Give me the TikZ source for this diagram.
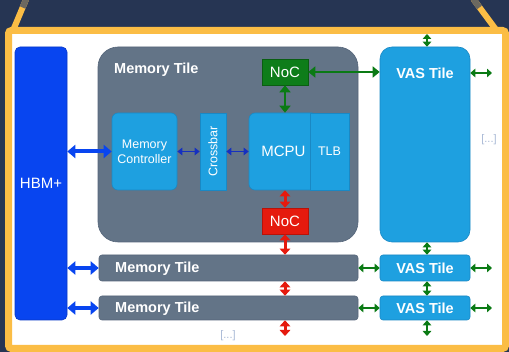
\documentclass[tikz,border=0pt]{standalone}
\usepackage{fontspec}
\setmainfont{Liberation Sans}
\usetikzlibrary{arrows.meta}

\definecolor{navy}{HTML}{263553}
\definecolor{frameorange}{HTML}{FBBD45}
\definecolor{tilegray}{HTML}{637487}
\definecolor{tilegrayedge}{HTML}{55657A}
\definecolor{vasblue}{HTML}{1EA0E0}
\definecolor{vasedge}{HTML}{1A88C4}
\definecolor{hbmblue}{HTML}{0845F0}
\definecolor{hbmedge}{HTML}{0838C8}
\definecolor{nocgreen}{HTML}{0E7D1A}
\definecolor{nocgreenedge}{HTML}{0A5E12}
\definecolor{nocred}{HTML}{E51A0E}
\definecolor{nocrededge}{HTML}{B81208}
\definecolor{linkgreen}{HTML}{0A7A14}
\definecolor{linkblue}{HTML}{1530C0}
\definecolor{dotsblue}{HTML}{A9B9D6}
\definecolor{topgray}{HTML}{6B6860}

\tikzset{
  box/.style={draw, line width=0.6pt, inner sep=0pt, align=center, text=white},
  hbmbox/.style={box, fill=hbmblue, draw=hbmedge, rounded corners=5pt,
    font=\fontsize{15}{18}\selectfont},
  bigtile/.style={box, fill=tilegray, draw=tilegrayedge, rounded corners=20pt},
  rowtile/.style={box, fill=tilegray, draw=tilegrayedge, rounded corners=3pt},
  vastile/.style={box, fill=vasblue, draw=vasedge, rounded corners=12pt},
  vasrow/.style={box, fill=vasblue, draw=vasedge, rounded corners=3pt,
    font=\bfseries\fontsize{14.5}{17}\selectfont},
  unit/.style={box, fill=vasblue, draw=vasedge},
  nocg/.style={box, fill=nocgreen, draw=nocgreenedge,
    font=\fontsize{15}{18}\selectfont},
  nocr/.style={box, fill=nocred, draw=nocrededge,
    font=\fontsize{15}{18}\selectfont},
  titletext/.style={text=white, inner sep=0pt, font=\bfseries\fontsize{14.5}{17}\selectfont},
  dots/.style={text=dotsblue, inner sep=0pt, font=\fontsize{11}{13}\selectfont},
  hbmlink/.style={draw=hbmblue, line width=4pt,
    {Triangle[length=8pt,width=13pt]}-{Triangle[length=8pt,width=13pt]}},
  xlink/.style={draw=linkblue, line width=1.6pt,
    {Triangle[length=5pt,width=7.5pt]}-{Triangle[length=5pt,width=7.5pt]}},
  glink/.style={draw=linkgreen, line width=2.4pt,
    {Triangle[length=5pt,width=8.5pt]}-{Triangle[length=5pt,width=8.5pt]}},
  glinkbig/.style={draw=linkgreen, line width=2.6pt,
    {Triangle[length=7pt,width=11pt]}-{Triangle[length=7pt,width=11pt]}},
  rlink/.style={draw=nocred, line width=3pt,
    {Triangle[length=6pt,width=10.5pt]}-{Triangle[length=6pt,width=10.5pt]}},
}

\begin{document}
\begin{tikzpicture}[x=1pt,y=-1pt]
  % backdrop and frame
  \fill[navy] (0,0) rectangle (509,352);
  \useasboundingbox (0,0) rectangle (509,352);
  \draw[frameorange, line width=6pt] (12.8,31) -- (26.2,-1);
  \draw[topgray, line width=6pt] (22.6,7.5) -- (26.2,-1);
  \draw[frameorange, line width=6pt] (497,31) -- (473.3,-1);
  \draw[topgray, line width=6pt] (479.4,7.5) -- (473.3,-1);
  \draw[frameorange, fill=white, line width=7pt, rounded corners=3pt]
    (8.5,30.5) rectangle (505.5,348.5);

  % HBM stack
  \node[hbmbox, minimum width=52pt, minimum height=273pt] (hbm) at (41,183.5) {HBM+};

  % detailed memory tile
  \node[bigtile, minimum width=260pt, minimum height=195pt] (mt1) at (228,144.5) {};
  \node[titletext, anchor=west] (mt1title) at (114,70) {Memory Tile};
  \node[unit, rounded corners=6pt, minimum width=65pt, minimum height=77pt,
    font=\fontsize{12.5}{15}\selectfont] (mc) at (144.5,151.5) {Memory\\Controller};
  \node[unit, minimum width=26pt, minimum height=77pt] (xbar) at (213,151.5) {};
  \node[text=white, rotate=90, inner sep=0pt, font=\fontsize{12.5}{15}\selectfont]
    (xbartext) at (xbar.center) {Crossbar};
  \node[unit, rounded corners=6pt, minimum width=69pt, minimum height=77pt,
    font=\fontsize{15}{18}\selectfont] (mcpu) at (283.5,151.5) {MCPU};
  \node[unit, minimum width=39pt, minimum height=77pt,
    font=\fontsize{12.5}{15}\selectfont] (tlb) at (329.5,151.5) {TLB};
  \node[nocg, minimum width=46pt, minimum height=26pt] (nocg) at (285,72) {NoC};
  \node[nocr, minimum width=46pt, minimum height=26pt] (nocr) at (285,221) {NoC};

  % detailed VAS tile
  \node[vastile, minimum width=90pt, minimum height=195pt] (vas1) at (425,144.5) {};
  \node[titletext] (vas1title) at (425,73) {VAS Tile};

  % further rows
  \node[rowtile, minimum width=259pt, minimum height=26pt] (mt2) at (228.5,268) {};
  \node[titletext, anchor=west] (mt2title) at (115,268.5) {Memory Tile};
  \node[rowtile, minimum width=259pt, minimum height=24pt] (mt3) at (228.5,308) {};
  \node[titletext, anchor=west] (mt3title) at (115,308.5) {Memory Tile};
  \node[vasrow, minimum width=90pt, minimum height=26pt] (vas2) at (425,268) {VAS Tile};
  \node[vasrow, minimum width=90pt, minimum height=24pt] (vas3) at (425,308) {VAS Tile};

  \node[dots] (dotsright) at (489,140) {[...]};
  \node[dots] (dotsbottom) at (228,336) {[...]};

  % free link ends
  \coordinate (vastop) at (427,34);
  \coordinate (vasbot) at (427,336);
  \coordinate (redbot) at (285,336);
  \coordinate (out1) at (492,73);
  \coordinate (out2) at (492,268);
  \coordinate (out3) at (492,308);

  % HBM links
  \draw[hbmlink] (hbm.east |- mc.west) -- (mc.west);
  \draw[hbmlink] (hbm.east |- mt2.west) -- (mt2.west);
  \draw[hbmlink] (hbm.east |- mt3.west) -- (mt3.west);

  % links inside the memory tile
  \draw[xlink] (mc.east) -- (xbar.west);
  \draw[xlink] (xbar.east) -- (xbar.east -| mcpu.west);
  \draw[glinkbig] (nocg.south) -- (nocg.south |- mcpu.north);
  \draw[rlink] (nocr.north) -- (nocr.north |- mcpu.south);

  % NoC links
  \draw[glinkbig] (nocg.east) -- (nocg.east -| vas1.west);
  \draw[rlink] (nocr.south) -- (nocr.south |- mt2.north);
  \draw[rlink] (nocr.south |- mt2.south) -- (nocr.south |- mt3.north);
  \draw[rlink] (nocr.south |- mt3.south) -- (redbot);

  % VAS links
  \draw[glink] (vastop |- vas1.north) -- (vastop);
  \draw[glink] (vastop |- vas1.south) -- (vastop |- vas2.north);
  \draw[glink] (vastop |- vas2.south) -- (vastop |- vas3.north);
  \draw[glink] (vastop |- vas3.south) -- (vasbot);
  \draw[glink] (out1 -| vas1.east) -- (out1);
  \draw[glink] (mt2.east) -- (vas2.west);
  \draw[glink] (vas2.east) -- (out2);
  \draw[glink] (mt3.east) -- (vas3.west);
  \draw[glink] (vas3.east) -- (out3);
\end{tikzpicture}
\end{document}
